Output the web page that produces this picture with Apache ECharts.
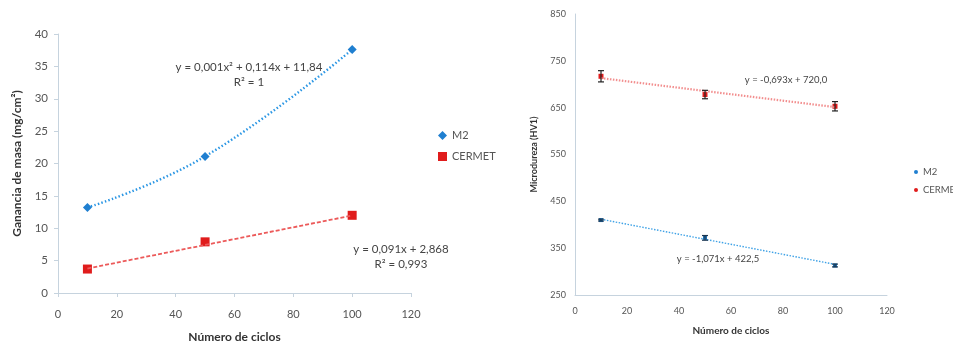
<!DOCTYPE html>
<html><head><meta charset="utf-8">
<script src="https://cdn.jsdelivr.net/npm/echarts@6/dist/echarts.min.js"></script>
<style>html,body{margin:0;padding:0;background:#fff}#c{width:953px;height:348px}</style>
</head><body><div id="c"></div>
<script>
const xCiclos = [10, 50, 100];
const xTrend = [10, 100];
const m2Masa = [13.2, 21.1, 37.6];
const cermetMasa = [3.7, 7.9, 12.0];
const cermetMasaTrend = [3.78, 11.97];
const m2Dureza = [410, 372, 313];
const m2DurezaErr = [2, 5, 3];
const cermetDureza = [717, 678, 653];
const cermetDurezaErr = [12, 9, 10];
const m2DurezaTrend = [411.8, 315.4];
const cermetDurezaTrend = [713.1, 651.2];
const xTicks = [0, 20, 40, 60, 80, 100, 120];
const yTicksMasa = [0, 5, 10, 15, 20, 25, 30, 35, 40];
const yTicksDureza = [250, 350, 450, 550, 650, 750, 850];

const FONT = 'Lato';
const axisCol = '#c6d3de';
const textCol = '#555';
const blue = '#1f7fd0', red = '#e01c1c';

const pairs = (xs, ys) => xs.map((x, i) => [x, ys[i]]);
const triples = (xs, ys, es) => xs.map((x, i) => [x, ys[i], es[i]]);

function errRender(color) {
  return function (params, api) {
    const x = api.value(0), y = api.value(1), e = api.value(2);
    const t = api.coord([x, y + e]), b = api.coord([x, y - e]);
    const w = 3;
    const st = { stroke: color, lineWidth: 1.2 };
    return { type: 'group', children: [
      { type: 'line', shape: { x1: t[0], y1: t[1], x2: b[0], y2: b[1] }, style: st },
      { type: 'line', shape: { x1: t[0] - w, y1: t[1], x2: t[0] + w, y2: t[1] }, style: st },
      { type: 'line', shape: { x1: b[0] - w, y1: b[1], x2: b[0] + w, y2: b[1] }, style: st }
    ]};
  };
}

const xAxisBase = (gi, margin, gap, fs, ticks) => ({
  type: 'value', gridIndex: gi, min: xTicks[0], max: xTicks[xTicks.length - 1], interval: 20,
  name: 'Número de ciclos', nameLocation: 'middle', nameGap: gap,
  nameTextStyle: { fontFamily: FONT, fontWeight: 'bold', fontSize: fs + 1, color: '#333' },
  axisLine: { show: true, lineStyle: { color: axisCol } },
  axisTick: { show: ticks, length: 4, lineStyle: { color: axisCol } },
  axisLabel: { margin: margin, fontFamily: FONT, fontSize: fs, color: textCol },
  splitLine: { show: false }
});

const chart = echarts.init(document.getElementById('c'));
chart.setOption({
  animation: false,
  grid: [
    { left: 58, right: 542, top: 34, bottom: 51 },
    { left: 575, right: 66, top: 14, bottom: 53 }
  ],
  xAxis: [xAxisBase(0, 16, 38, 11, true), xAxisBase(1, 12, 31, 9, false)],
  yAxis: [
    { type: 'value', gridIndex: 0, min: yTicksMasa[0], max: yTicksMasa[yTicksMasa.length - 1], interval: 5,
      name: 'Ganancia de masa (mg/cm²)', nameLocation: 'middle', nameGap: 35,
      nameTextStyle: { fontFamily: FONT, fontWeight: 'bold', fontSize: 12, color: '#333' },
      axisLine: { show: true, lineStyle: { color: axisCol } },
      axisTick: { show: true, length: 4, lineStyle: { color: axisCol } },
      axisLabel: { margin: 10, fontFamily: FONT, fontSize: 11.5, color: textCol },
      splitLine: { show: false } },
    { type: 'value', gridIndex: 1, min: yTicksDureza[0], max: yTicksDureza[yTicksDureza.length - 1], interval: 100,
      name: 'Microdureza (HV1)', nameLocation: 'middle', nameGap: 36,
      nameTextStyle: { fontFamily: FONT, fontWeight: 'bold', fontSize: 9, color: '#333' },
      axisLine: { show: true, lineStyle: { color: axisCol } },
      axisTick: { show: false },
      axisLabel: { margin: 9, fontFamily: FONT, fontSize: 9, color: textCol },
      splitLine: { show: false } }
  ],
  legend: [
    { left: 433, top: 125, orient: 'vertical', itemGap: 10, itemWidth: 9, itemHeight: 9,
      textStyle: { fontFamily: FONT, fontSize: 11, color: textCol },
      data: [ { name: 'M2', icon: 'diamond', itemStyle: { color: blue } },
              { name: 'CERMET', icon: 'rect', itemStyle: { color: red } } ] },
    { left: 909, top: 162, orient: 'vertical', itemGap: 8, itemWidth: 4, itemHeight: 4,
      textStyle: { fontFamily: FONT, fontSize: 9.5, color: textCol },
      data: [ { name: 'M2', icon: 'circle', itemStyle: { color: blue } },
              { name: 'CERMET', icon: 'circle', itemStyle: { color: red } } ] }
  ],
  series: [
    { name: 'M2', type: 'line', xAxisIndex: 0, yAxisIndex: 0, smooth: 0.45,
      data: pairs(xCiclos, m2Masa), symbol: 'diamond', symbolSize: 9,
      itemStyle: { color: blue }, lineStyle: { color: '#2a96e4', width: 2.4, type: [1.5, 2.2] } },
    { name: 'CERMET trend', type: 'line', xAxisIndex: 0, yAxisIndex: 0,
      data: pairs(xTrend, cermetMasaTrend), symbol: 'none',
      lineStyle: { color: '#ec5a5a', width: 1.8, type: [4, 2] } },
    { name: 'CERMET', type: 'scatter', xAxisIndex: 0, yAxisIndex: 0,
      data: pairs(xCiclos, cermetMasa), symbol: 'rect', symbolSize: 9,
      itemStyle: { color: red, opacity: 1 } },

    { name: 'M2 trend', type: 'line', xAxisIndex: 1, yAxisIndex: 1,
      data: pairs(xTrend, m2DurezaTrend), symbol: 'none',
      lineStyle: { color: '#3fa2e6', width: 1.4, type: [1.5, 1.5] } },
    { name: 'CERMET trend2', type: 'line', xAxisIndex: 1, yAxisIndex: 1,
      data: pairs(xTrend, cermetDurezaTrend), symbol: 'none',
      lineStyle: { color: '#f28e8e', width: 2.2, type: [1.5, 1.5] } },
    { name: 'M2', type: 'scatter', xAxisIndex: 1, yAxisIndex: 1,
      data: pairs(xCiclos, m2Dureza), symbol: 'rect', symbolSize: 4,
      itemStyle: { color: '#1f6fb0', opacity: 1 } },
    { name: 'CERMET', type: 'scatter', xAxisIndex: 1, yAxisIndex: 1,
      data: pairs(xCiclos, cermetDureza), symbol: 'rect', symbolSize: 5,
      itemStyle: { color: red, opacity: 1 } },
    { name: 'M2 err', type: 'custom', xAxisIndex: 1, yAxisIndex: 1,
      renderItem: errRender('#1a3550'), data: triples(xCiclos, m2Dureza, m2DurezaErr), z: 5 },
    { name: 'CERMET err', type: 'custom', xAxisIndex: 1, yAxisIndex: 1,
      renderItem: errRender('#222'), data: triples(xCiclos, cermetDureza, cermetDurezaErr), z: 5 }
  ],
  graphic: [
    { type: 'text', x: 249, y: 75, style: { text: 'y = 0,001x² + 0,114x + 11,84\nR² = 1', align: 'center', verticalAlign: 'middle',
      lineHeight: 15, fontFamily: FONT, fontSize: 11.5, fill: '#444' } },
    { type: 'text', x: 401, y: 257, style: { text: 'y = 0,091x + 2,868\nR² = 0,993', align: 'center', verticalAlign: 'middle',
      lineHeight: 15, fontFamily: FONT, fontSize: 11.5, fill: '#444' } },
    { type: 'text', x: 786, y: 80, style: { text: 'y = -0,693x + 720,0', align: 'center', verticalAlign: 'middle',
      fontFamily: FONT, fontSize: 9.5, fill: '#444' } },
    { type: 'text', x: 718, y: 259, style: { text: 'y = -1,071x + 422,5', align: 'center', verticalAlign: 'middle',
      fontFamily: FONT, fontSize: 9.5, fill: '#444' } }
  ]
});
</script></body></html>
